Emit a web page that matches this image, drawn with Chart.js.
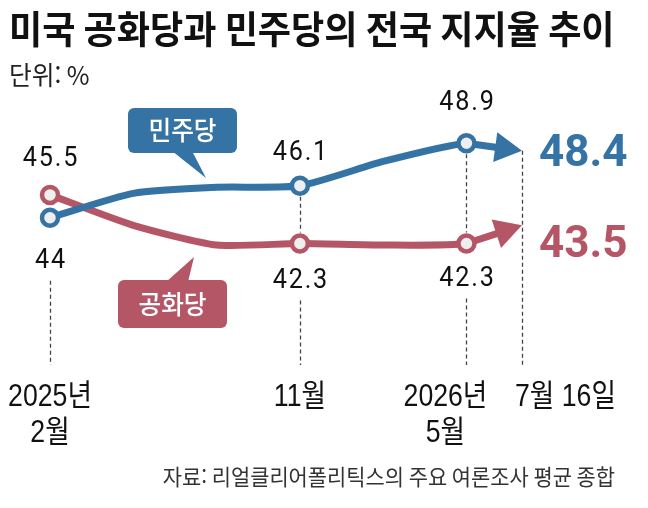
<!DOCTYPE html>
<html lang="ko">
<head>
<meta charset="utf-8">
<title>미국 공화당과 민주당의 전국 지지율 추이</title>
<script src="https://cdn.jsdelivr.net/npm/chart.js@4/dist/chart.umd.min.js"></script>
<style>
  html, body { margin: 0; padding: 0; background: #fff; }
  canvas { display: block; }
</style>
</head>
<body>
<canvas id="pollChart" width="648" height="508"></canvas>
<script>
// months counted from 2025-02
const months = [0, 3, 6, 9, 12, 15, 17];
const demValues = [44, 45.6, 46.0, 46.1, 47.7, 48.9, 48.4];
const repValues = [45.5, 43.5, 42.2, 42.3, 42.2, 42.3, 43.5];
const seriesNames = ["민주당", "공화당"];
const markedIdx = [0, 3, 5];
const tickMonths = [0, 9, 15, 17];
const tickLabels = [["2025년", "2월"], ["11월"], ["2026년", "5월"], ["7월 16일"]];

const BLUE = "#3473a3";
const RED = "#b55667";
const NUM_FONT = '"Liberation Sans", "Noto Sans CJK KR", sans-serif';
const KR_FONT = '"Noto Sans CJK KR", sans-serif';

// label offsets (px) from each marked point, per series
const labelDy = [[43, -33, -40], [-36, 37, 35]];
const endDy = [4, 21];
const DASH_END = 365;

const toPoints = vals => vals.map((v, i) => ({ x: months[i], y: v }));
const lastIdx = months.length - 1;

// text squeezed horizontally (the original uses a condensed face)
function narrowText(ctx, text, x, y, align, sx) {
  const w = ctx.measureText(text).width * sx;
  let left = x;
  if (align === "center") left = x - w / 2;
  else if (align === "right") left = x - w;
  ctx.save();
  ctx.textAlign = "left";
  ctx.translate(left, y);
  ctx.scale(sx, 1);
  ctx.fillText(text, 0, 0);
  ctx.restore();
}

function drawArrow(ctx, x0, y0, x1, y1, color) {
  const dx = x1 - x0, dy = y1 - y0;
  const len = Math.hypot(dx, dy);
  const ux = dx / len, uy = dy / len;
  const L = 27, W = 15;
  const bx = x1 - ux * L, by = y1 - uy * L;
  ctx.save();
  ctx.strokeStyle = color;
  ctx.fillStyle = color;
  ctx.lineWidth = 7;
  ctx.beginPath();
  ctx.moveTo(x0, y0);
  ctx.lineTo(bx + ux * 2, by + uy * 2);
  ctx.stroke();
  ctx.beginPath();
  ctx.moveTo(x1, y1);
  ctx.lineTo(bx - uy * W, by + ux * W);
  ctx.lineTo(bx + uy * W, by - ux * W);
  ctx.closePath();
  ctx.fill();
  ctx.restore();
}

function drawCallout(ctx, box, tail, text, color) {
  ctx.save();
  ctx.fillStyle = color;
  ctx.beginPath();
  ctx.roundRect(box.x, box.y, box.w, box.h, 6);
  ctx.fill();
  ctx.beginPath();
  ctx.moveTo(tail[0][0], tail[0][1]);
  ctx.lineTo(tail[1][0], tail[1][1]);
  ctx.lineTo(tail[2][0], tail[2][1]);
  ctx.closePath();
  ctx.fill();
  ctx.fillStyle = "#fff";
  ctx.font = "500 26px " + KR_FONT;
  ctx.textBaseline = "middle";
  narrowText(ctx, text, box.x + box.w / 2, box.y + box.h / 2, "center", 0.95);
  ctx.restore();
}

const decorPlugin = {
  id: "decor",
  beforeDatasetsDraw(chart) {
    const { ctx, scales: { x } } = chart;
    const m0 = chart.getDatasetMeta(0).data;
    const m1 = chart.getDatasetMeta(1).data;

    // dashed guides
    ctx.save();
    ctx.strokeStyle = "#444";
    ctx.lineWidth = 1.3;
    ctx.setLineDash([4, 3]);
    tickMonths.forEach(m => {
      const i = months.indexOf(m);
      const px = Math.round(x.getPixelForValue(m)) + 0.5;
      const ys = [m0[i].y, m1[i].y];
      const segs = [];
      if (i === lastIdx) {
        segs.push([Math.min(...ys), DASH_END]);
      } else {
        const lowSeries = ys[0] > ys[1] ? 0 : 1;
        const top = Math.min(...ys), bot = Math.max(...ys);
        if (bot - top > 30) segs.push([top + 11, bot - 11]);
        const k = markedIdx.indexOf(i);
        segs.push([bot + labelDy[lowSeries][k] + 20, DASH_END]);
      }
      segs.forEach(([a, b]) => {
        ctx.beginPath();
        ctx.moveTo(px, a);
        ctx.lineTo(px, b);
        ctx.stroke();
      });
    });
    ctx.restore();

    // last segment as arrow
    [[m1, RED], [m0, BLUE]].forEach(([pts, col]) => {
      const a = pts[lastIdx - 1], b = pts[lastIdx];
      drawArrow(ctx, a.x, a.y, b.x, b.y, col);
    });
  },
  afterDraw(chart) {
    const { ctx, scales: { x } } = chart;
    const metas = [chart.getDatasetMeta(0).data, chart.getDatasetMeta(1).data];
    const series = [demValues, repValues];
    const colors = [BLUE, RED];

    ctx.save();
    ctx.textBaseline = "middle";
    // title and unit
    ctx.fillStyle = "#111";
    ctx.font = "bold 38px " + KR_FONT;
    narrowText(ctx, "미국 공화당과 민주당의 전국 지지율 추이", 9, 29, "left", 0.95);
    ctx.fillStyle = "#222";
    ctx.font = "26px " + KR_FONT;
    narrowText(ctx, "단위: %", 9, 75, "left", 0.95);

    // point labels
    ctx.fillStyle = "#111";
    ctx.font = "28px Roboto, sans-serif";
    ctx.letterSpacing = "2px";
    series.forEach((vals, s) => {
      markedIdx.forEach((i, k) => {
        const p = metas[s][i];
        narrowText(ctx, String(vals[i]), p.x + 1, p.y + labelDy[s][k], "center", 0.9);
      });
    });
    ctx.letterSpacing = "0px";

    // end values
    ctx.textAlign = "left";
    ctx.font = "bold 44px Roboto, sans-serif";
    series.forEach((vals, s) => {
      const p = metas[s][lastIdx];
      ctx.fillStyle = colors[s];
      ctx.fillText(vals[lastIdx].toFixed(1), p.x + 17, p.y + endDy[s]);
    });

    // x labels
    ctx.fillStyle = "#111";
    ctx.font = "31px " + NUM_FONT;
    tickMonths.forEach((m, t) => {
      let px = x.getPixelForValue(m);
      let align = "center";
      if (t === 2) px -= 21;
      if (t === 3) { align = "left"; px -= 7; }
      tickLabels[t].forEach((line, j) => {
        narrowText(ctx, line, px, 397 + j * 36, align, 0.86);
      });
    });

    // source
    ctx.fillStyle = "#333";
    ctx.font = "22px " + KR_FONT;
    narrowText(ctx, "자료: 리얼클리어폴리틱스의 주요 여론조사 평균 종합", 615, 477, "right", 0.95);
    ctx.restore();

    // callouts
    drawCallout(ctx, { x: 128, y: 108, w: 109, h: 45 },
      [[172, 151], [192, 151], [206, 178]], seriesNames[0], BLUE);
    drawCallout(ctx, { x: 118, y: 280, w: 109, h: 48 },
      [[166, 282], [188, 282], [194, 257]], seriesNames[1], RED);
  }
};

const pointStyle = color => ({
  borderColor: color,
  borderWidth: 7,
  borderJoinStyle: "round",
  pointRadius: c => markedIdx.includes(c.dataIndex) ? 8 : 0,
  pointBorderWidth: 4.5,
  pointBackgroundColor: "#eeeeee",
  pointBorderColor: color,
  tension: 0.2,
  clip: false,
  segment: {
    borderColor: c => c.p1DataIndex === lastIdx ? "transparent" : undefined
  }
});

new Chart(document.getElementById("pollChart"), {
  type: "line",
  data: {
    datasets: [
      { label: seriesNames[0], data: toPoints(demValues), ...pointStyle(BLUE) },
      { label: seriesNames[1], data: toPoints(repValues), ...pointStyle(RED) }
    ]
  },
  options: {
    responsive: false,
    animation: false,
    events: [],
    layout: { padding: { left: 50, right: 126, top: 126.5, bottom: 229.5 } },
    plugins: { legend: { display: false }, tooltip: { enabled: false } },
    scales: {
      x: { type: "linear", min: 0, max: 17, display: false },
      y: { min: 40, max: 50, display: false }
    }
  },
  plugins: [decorPlugin]
});
</script>
</body>
</html>
